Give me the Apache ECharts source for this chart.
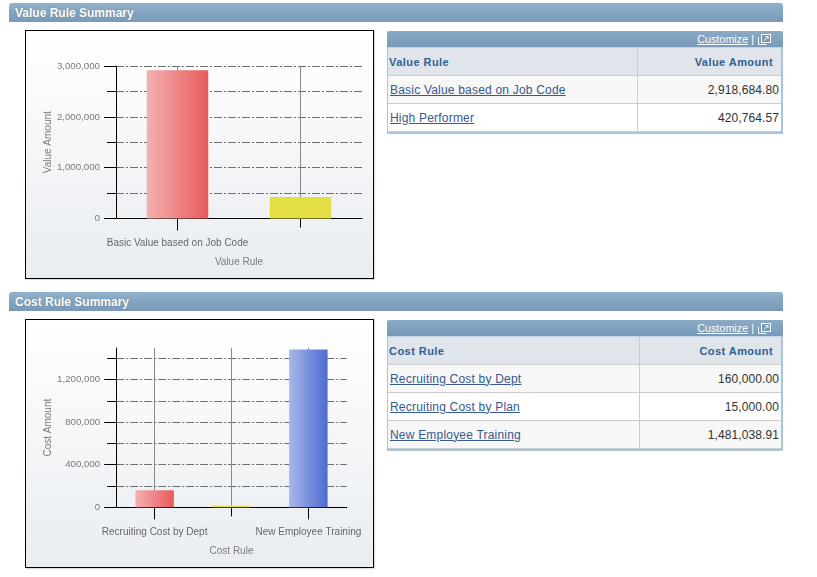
<!DOCTYPE html>
<html><head><meta charset="utf-8">
<script src="https://cdn.jsdelivr.net/npm/echarts@6/dist/echarts.min.js"></script>
<style>
html,body{margin:0;padding:0;background:#fff;width:817px;height:577px;overflow:hidden;font-family:"Liberation Sans",Arial,sans-serif}
.hdr{position:absolute;left:9px;width:774px;height:19px;background:linear-gradient(#90b1ca,#7899b8);border-radius:3px 3px 0 0;color:#fff;font:bold 12px/20px "Liberation Sans";box-sizing:border-box;padding-left:6px;text-shadow:0 0 1px #567}
.box{position:absolute;left:25px;width:349px;height:249px;border:1px solid #000;box-sizing:border-box;box-shadow:1px 1px 1px #ddd}
.chart{width:347px;height:247px}
.tbl{position:absolute;left:387px;width:396px;box-sizing:border-box;border:1px solid #a9c4dc;border-top:0;border-width:0 2px 2px 1px}
.bar{height:16px;background:linear-gradient(#8aaac6,#7899b8);border-radius:3px 3px 0 0;text-align:right;color:#fff;font:10.8px/17px "Liberation Sans";box-sizing:border-box;padding-right:12px;margin:0 -2px 0 -1px}
.bar a{text-decoration:underline}
.bar svg{vertical-align:-2px;margin-left:1px}
table{border-collapse:collapse;width:100%;table-layout:fixed;font:12px "Liberation Sans"}
th{background:#dfe5eb;color:#2f6094;font:bold 11px "Liberation Sans";letter-spacing:.45px;height:27px;padding:0 1px;text-align:left;border-bottom:1px solid #ccc;border-top:1px solid #c4d4e2}
th:last-child{text-align:right;padding-right:8px;border-left:1px solid #ccc}
td{height:27px;padding:0 2px;border-bottom:1px solid #ccc;color:#333;letter-spacing:.1px}
td:last-child{text-align:right;border-left:1px solid #ccc}
td a{color:#36598f;text-decoration:underline;letter-spacing:.2px}
tr.odd td{background:#f7f7f7}
</style></head><body>
<div class="hdr" id="h1" style="top:3px"></div>
<div class="box" style="top:30px"><div class="chart" id="c1"></div></div>
<div class="tbl" id="t1" style="top:31px"></div>
<div class="hdr" id="h2" style="top:292px"></div>
<div class="box" style="top:319px"><div class="chart" id="c2"></div></div>
<div class="tbl" id="t2" style="top:320px"></div>
<script>
const valueCategories = ["Basic Value based on Job Code", "High Performer"];
const valueAmounts = [2918684.80, 420764.57];
const valueAmountLabels = ["2,918,684.80", "420,764.57"];
const valueMajorTicks = [0, 1000000, 2000000, 3000000];
const valueMinorTicks = [500000, 1500000, 2500000];
const valueLabeled = [0];

const costCategories = ["Recruiting Cost by Dept", "Recruiting Cost by Plan", "New Employee Training"];
const costAmounts = [160000, 15000, 1481038.91];
const costAmountLabels = ["160,000.00", "15,000.00", "1,481,038.91"];
const costMajorTicks = [0, 400000, 800000, 1200000];
const costMinorTicks = [200000, 600000, 1000000, 1400000];
const costLabeled = [0, 2];

const barFills = [["#f5b0b2", "#e85a5a"], ["#e2de44", "#e2de44"], ["#a8b6e9", "#4f6bd0"]];
const gridStroke = "#6e6e6e";
const textColor = "#7a7a7a";
const fontFace = "Liberation Sans";

function build(id, o) {
  const chart = echarts.init(document.getElementById(id), null, {renderer: "canvas"});
  const grad = c => new echarts.graphic.LinearGradient(0, 0, 1, 0, [{offset: 0, color: c[0]}, {offset: 1, color: c[1]}]);
  const yBase = {
    type: "value", min: 0, max: o.max, position: "left",
    axisLine: {show: true, lineStyle: {color: "#000", width: 1}},
    splitLine: {show: true, lineStyle: {color: gridStroke, width: 1, type: [8, 2, 2, 2]}}
  };
  chart.setOption({
    animation: false,
    backgroundColor: new echarts.graphic.LinearGradient(0, 0, 0, 1, [{offset: 0, color: "#ffffff"}, {offset: 1, color: "#e9edf1"}]),
    grid: {left: o.left, top: o.top, width: o.width, height: o.height, containLabel: false},
    xAxis: [{
      type: "category", data: o.cats, position: "bottom",
      name: o.xName, nameLocation: "middle", nameGap: 39,
      nameTextStyle: {color: textColor, fontSize: 10, fontFamily: fontFace},
      axisLine: {show: true, lineStyle: {color: "#000", width: 1}},
      axisTick: {show: true, alignWithLabel: true, length: 9, lineStyle: {color: "#000"}},
      splitLine: {show: true, alignWithLabel: true, lineStyle: {color: "#888", width: 1}},
      axisLabel: {
        margin: 20, color: "#666", fontSize: 10, fontFamily: fontFace, hideOverlap: false,
        interval: 0, formatter: (v, i) => o.labeled.includes(i) ? v : ""
      }
    }, {
      type: "category", data: o.cats, position: "bottom",
      axisLine: {show: false}, axisLabel: {show: false}, splitLine: {show: false},
      axisTick: {show: true, alignWithLabel: true, length: 12, customValues: o.labeled, lineStyle: {color: "#000"}}
    }],
    yAxis: [Object.assign({}, yBase, {
      name: o.yName, nameLocation: "middle", nameGap: 63, nameMoveOverlap: false,
      nameTextStyle: {color: textColor, fontSize: 10, fontFamily: fontFace},
      axisTick: {show: true, length: 12, customValues: o.major, lineStyle: {color: "#000"}},
      axisLabel: {
        margin: 16, color: textColor, fontSize: 9.7, fontFamily: fontFace, customValues: o.major,
        padding: [2, 0, 0, 0],
        formatter: v => v.toLocaleString("en-US")
      }
    }), Object.assign({}, yBase, {
      axisLine: {show: false}, axisLabel: {show: false},
      axisTick: {show: true, length: 9, customValues: o.minor, lineStyle: {color: "#000"}}
    })],
    series: [{
      type: "bar", barWidth: "50%", xAxisIndex: 0, yAxisIndex: 0,
      data: o.vals.map((v, i) => ({value: v, itemStyle: {color: grad(barFills[i])}}))
    }]
  });
}

function table(id, c1, c2, names, amounts, w) {
  const rows = names.map((n, i) => `<tr class="${i % 2 ? "" : "odd"}"><td><a>${n}</a></td><td>${amounts[i]}</td></tr>`).join("");
  document.getElementById(id).innerHTML =
    `<div class="bar"><a>Customize</a> | <svg width="13" height="11" viewBox="0 0 13 11"><rect x="3.5" y="0.5" width="9" height="8" fill="#7899b8" stroke="#fff"/><path d="M0.5 3.5v7h8" fill="none" stroke="#fff"/><path d="M6 6.5L10 2.5M7.5 2.5H10V5" fill="none" stroke="#fff"/></svg></div>` +
    `<table><colgroup><col style="width:${w}px"><col></colgroup><tr><th>${c1}</th><th>${c2}</th></tr>${rows}</table>`;
}

document.getElementById("h1").textContent = "Value Rule Summary";
document.getElementById("h2").textContent = "Cost Rule Summary";
table("t1", "Value Rule", "Value Amount", valueCategories, valueAmountLabels, 249);
table("t2", "Cost Rule", "Cost Amount", costCategories, costAmountLabels, 251);

build("c1", {cats: valueCategories, vals: valueAmounts, max: 3000000, major: valueMajorTicks, minor: valueMinorTicks,
  labeled: valueLabeled, xName: "Value Rule", yName: "Value Amount", left: 90, top: 35, width: 246, height: 152.5});
build("c2", {cats: costCategories, vals: costAmounts, max: 1496000, major: costMajorTicks, minor: costMinorTicks,
  labeled: costLabeled, xName: "Cost Rule", yName: "Cost Amount", left: 90.2, top: 28, width: 230.6, height: 159.3});
</script>
</body></html>
